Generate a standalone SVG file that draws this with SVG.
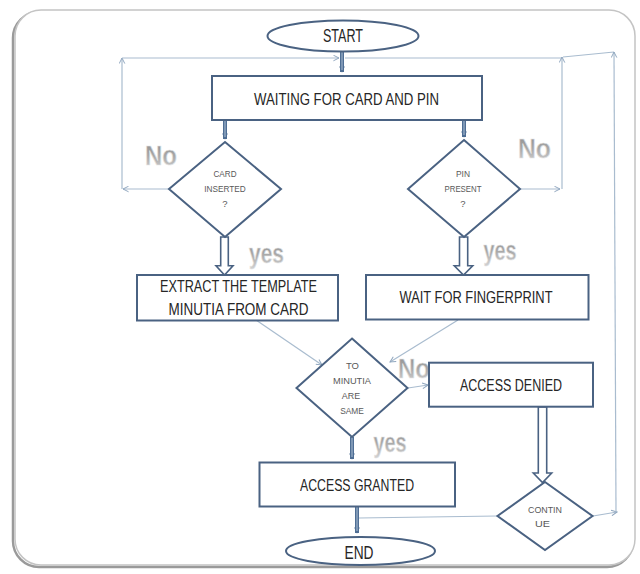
<svg xmlns="http://www.w3.org/2000/svg" width="640" height="574" viewBox="0 0 640 574">
<defs>
<style>
.frame{fill:#ffffff;stroke:#c4c4c4;stroke-width:1.5}
.shadow{fill:none;stroke:#9a9a9a;stroke-width:2.5}
.box{fill:#ffffff;stroke:#4a6282;stroke-width:2}
.dia{fill:#ffffff;stroke:#4a6282;stroke-width:2}
.term{fill:#ffffff;stroke:#4a6282;stroke-width:2}
.thin{fill:none;stroke:#a9bccf;stroke-width:1.2}
.dbl{fill:none;stroke:#4f6e94;stroke-width:4}
.dbl-in{fill:none;stroke:#9fb4cc;stroke-width:1.2}
.blk{fill:#ffffff;stroke:#4a6282;stroke-width:1.6;stroke-linejoin:miter}
.t{font-family:"Liberation Sans",Arial,sans-serif;fill:#262626;text-anchor:middle}
.big{font-size:16px}
.sm{font-size:9.5px;fill:#595959}
.lbl{font-family:"Liberation Sans",Arial,sans-serif;font-weight:bold;font-size:27px;fill:url(#g);stroke:#e6e6e6;stroke-width:0.6;text-anchor:middle}
</style>
<linearGradient id="g" x1="0" y1="0" x2="0" y2="1">
<stop offset="0" stop-color="#8e8e8e"/>
<stop offset="0.5" stop-color="#a8a8a8"/>
<stop offset="1" stop-color="#d2d2d2"/>
</linearGradient>
<marker id="ar" viewBox="0 0 10 10" refX="9" refY="5" markerWidth="7" markerHeight="7" orient="auto" markerUnits="userSpaceOnUse">
<path d="M1,1 L9,5 L1,9" fill="none" stroke="#8fa6be" stroke-width="1.4"/>
</marker>
<marker id="ad" viewBox="0 0 10 10" refX="8" refY="5" markerWidth="7" markerHeight="7" orient="auto" markerUnits="userSpaceOnUse">
<path d="M0,1 L9,5 L0,9 Z" fill="#4f6e94"/>
</marker>
</defs>

<g id="frame">
<rect class="shadow" x="13" y="12" width="620" height="555" rx="26"/>
<rect class="frame" x="15" y="10" width="620" height="555" rx="26"/>
</g>

<g id="connectors">
<!-- left No loop -->
<line class="thin" x1="169" y1="189" x2="123" y2="189" marker-end="url(#ar)"/>
<line class="thin" x1="122" y1="189" x2="122" y2="58" marker-end="url(#ar)"/>
<line class="thin" x1="122" y1="58" x2="339" y2="58" marker-end="url(#ar)"/>
<line class="thin" x1="345" y1="58" x2="562" y2="58"/>
<!-- right No loop -->
<line class="thin" x1="520" y1="189" x2="560" y2="189" marker-end="url(#ar)"/>
<line class="thin" x1="562" y1="189" x2="562" y2="57" marker-end="url(#ar)"/>
<line class="thin" x1="614" y1="52" x2="563" y2="57"/>
<!-- continue loop -->
<line class="thin" x1="593" y1="516" x2="617" y2="512" marker-end="url(#ar)"/>
<line class="thin" x1="616" y1="512" x2="614" y2="52" marker-end="url(#ar)"/>
<line class="thin" x1="497" y1="516" x2="359" y2="518"/>
<!-- into compare -->
<line class="thin" x1="256" y1="320" x2="322" y2="365" marker-end="url(#ar)"/>
<line class="thin" x1="458" y1="320" x2="390" y2="362" marker-end="url(#ar)"/>
<line class="thin" x1="408" y1="388" x2="428" y2="385" marker-end="url(#ar)"/>
<!-- double connectors -->
<line class="dbl" x1="342" y1="51" x2="342" y2="72" marker-end="url(#ad)"/>
<line class="dbl-in" x1="342" y1="51" x2="342" y2="70"/>
<line class="dbl" x1="225" y1="120" x2="225" y2="139" marker-end="url(#ad)"/>
<line class="dbl-in" x1="225" y1="120" x2="225" y2="137"/>
<line class="dbl" x1="464" y1="120" x2="464" y2="137" marker-end="url(#ad)"/>
<line class="dbl-in" x1="464" y1="120" x2="464" y2="135"/>
<line class="dbl" x1="352" y1="437" x2="352" y2="459" marker-end="url(#ad)"/>
<line class="dbl-in" x1="352" y1="437" x2="352" y2="457"/>
<line class="dbl" x1="357" y1="506" x2="357" y2="533" marker-end="url(#ad)"/>
<line class="dbl-in" x1="357" y1="506" x2="357" y2="531"/>
<!-- block arrows -->
<path class="blk" d="M220.7,237 L228.3,237 L228.3,265.7 L233,265.7 L224.5,275 L216,265.7 L220.7,265.7 Z"/>
<path class="blk" d="M459.5,237 L467.7,237 L467.7,265.7 L472.7,265.7 L463.5,275 L454.3,265.7 L459.5,265.7 Z"/>
<path class="blk" d="M538.3,407 L546.7,407 L546.7,473 L551.7,473 L542.5,482.5 L533.3,473 L538.3,473 Z"/>
</g>

<g id="labels">
<text class="lbl" x="161" y="165" textLength="32" lengthAdjust="spacingAndGlyphs">No</text>
<text class="lbl" x="534.5" y="157.5" textLength="33" lengthAdjust="spacingAndGlyphs">No</text>
<text class="lbl" x="266.5" y="263" textLength="35" lengthAdjust="spacingAndGlyphs">yes</text>
<text class="lbl" x="500" y="260" textLength="33" lengthAdjust="spacingAndGlyphs">yes</text>
<text class="lbl" x="414" y="377.5" textLength="32" lengthAdjust="spacingAndGlyphs">No</text>
<text class="lbl" x="390" y="451.5" textLength="33" lengthAdjust="spacingAndGlyphs">yes</text>
</g>

<g id="start">
<ellipse class="term" cx="343" cy="36" rx="75.5" ry="15.5"/>
<text class="t" x="343" y="42.3" font-size="18" textLength="40" lengthAdjust="spacingAndGlyphs">START</text>
</g>

<g id="waiting">
<rect class="box" x="212" y="76" width="270" height="44"/>
<text class="t big" x="346.5" y="105" textLength="185" lengthAdjust="spacingAndGlyphs">WAITING FOR CARD AND PIN</text>
</g>

<g id="card-inserted">
<path class="dia" d="M225,142 L281,189 L225,237 L169,189 Z"/>
<text class="t sm" x="225" y="176.7" textLength="23" lengthAdjust="spacingAndGlyphs">CARD</text>
<text class="t sm" x="225" y="191.7" textLength="41.5" lengthAdjust="spacingAndGlyphs">INSERTED</text>
<text class="t sm" x="225" y="206.7">?</text>
</g>

<g id="pin-present">
<path class="dia" d="M464,140 L520,189 L464,237 L408,189 Z"/>
<text class="t sm" x="463" y="176.7" textLength="14" lengthAdjust="spacingAndGlyphs">PIN</text>
<text class="t sm" x="463" y="192" textLength="37" lengthAdjust="spacingAndGlyphs">PRESENT</text>
<text class="t sm" x="463" y="206.5">?</text>
</g>

<g id="extract">
<rect class="box" x="137" y="275" width="201" height="45.5"/>
<text class="t big" x="238.5" y="291.7" textLength="157" lengthAdjust="spacingAndGlyphs">EXTRACT THE TEMPLATE</text>
<text class="t big" x="238.5" y="315" textLength="140" lengthAdjust="spacingAndGlyphs">MINUTIA FROM CARD</text>
</g>

<g id="wait-fingerprint">
<rect class="box" x="366" y="275" width="222.5" height="44.5"/>
<text class="t big" x="476" y="303.3" textLength="153" lengthAdjust="spacingAndGlyphs">WAIT FOR FINGERPRINT</text>
</g>

<g id="compare">
<path class="dia" d="M352,338.5 L407.5,388 L352,437 L296.5,388 Z"/>
<text class="t sm" x="352.5" y="369" textLength="13" lengthAdjust="spacingAndGlyphs">TO</text>
<text class="t sm" x="352" y="384" textLength="38" lengthAdjust="spacingAndGlyphs">MINUTIA</text>
<text class="t sm" x="351" y="399" textLength="18.3" lengthAdjust="spacingAndGlyphs">ARE</text>
<text class="t sm" x="352" y="414" textLength="23.7" lengthAdjust="spacingAndGlyphs">SAME</text>
</g>

<g id="access-denied">
<rect class="box" x="429" y="362.7" width="164" height="44"/>
<text class="t big" x="511" y="390.7" textLength="102" lengthAdjust="spacingAndGlyphs">ACCESS DENIED</text>
</g>

<g id="access-granted">
<rect class="box" x="259.5" y="462.5" width="195.5" height="44"/>
<text class="t big" x="357" y="490.7" textLength="114" lengthAdjust="spacingAndGlyphs">ACCESS GRANTED</text>
</g>

<g id="continue">
<path class="dia" d="M545,482 L592.5,516 L545,550 L497.5,516 Z"/>
<text class="t sm" x="545" y="512.7" textLength="34" lengthAdjust="spacingAndGlyphs">CONTIN</text>
<text class="t sm" x="542.5" y="526.7" textLength="15" lengthAdjust="spacingAndGlyphs">UE</text>
</g>

<g id="end">
<ellipse class="term" cx="360.5" cy="551" rx="74.5" ry="14"/>
<text class="t" x="359" y="559.3" font-size="17.5" textLength="29" lengthAdjust="spacingAndGlyphs">END</text>
</g>
</svg>
